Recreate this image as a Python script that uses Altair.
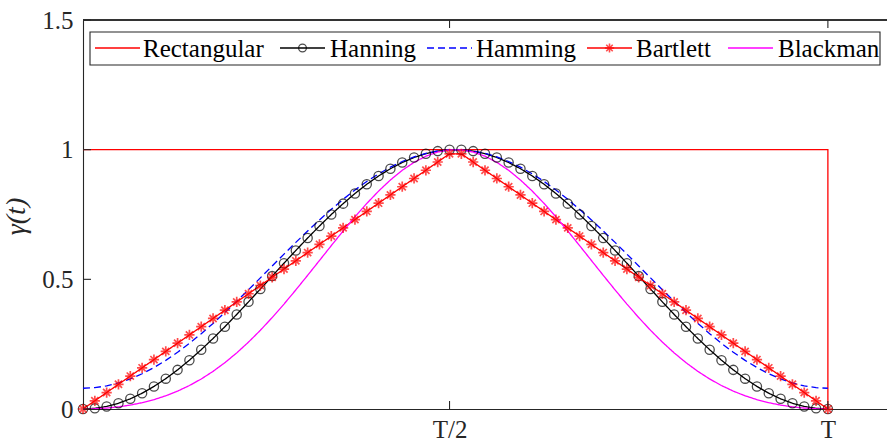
import altair as alt
import pandas as pd

# sample index (1..64), as in the source figure
n = list(range(1, 65))

hanning = [0.0000, 0.0025, 0.0099, 0.0222, 0.0393, 0.0609, 0.0869, 0.1170, 0.1509, 0.1883, 0.2287, 0.2719,
           0.3173, 0.3646, 0.4132, 0.4626, 0.5125, 0.5622, 0.6113, 0.6592, 0.7056, 0.7500, 0.7919, 0.8308,
           0.8665, 0.8986, 0.9266, 0.9505, 0.9698, 0.9845, 0.9944, 0.9994,
           0.9994, 0.9944, 0.9845, 0.9698, 0.9505, 0.9266, 0.8986, 0.8665, 0.8308, 0.7919, 0.7500, 0.7056,
           0.6592, 0.6113, 0.5622, 0.5125, 0.4626, 0.4132, 0.3646, 0.3173, 0.2719, 0.2287, 0.1883, 0.1509,
           0.1170, 0.0869, 0.0609, 0.0393, 0.0222, 0.0099, 0.0025, 0.0000]

hamming = [0.0800, 0.0823, 0.0891, 0.1004, 0.1161, 0.1360, 0.1599, 0.1876, 0.2188, 0.2532, 0.2904, 0.3301,
           0.3719, 0.4154, 0.4601, 0.5056, 0.5515, 0.5972, 0.6424, 0.6865, 0.7292, 0.7700, 0.8085, 0.8444,
           0.8772, 0.9067, 0.9325, 0.9544, 0.9723, 0.9858, 0.9949, 0.9994,
           0.9994, 0.9949, 0.9858, 0.9723, 0.9544, 0.9325, 0.9067, 0.8772, 0.8444, 0.8085, 0.7700, 0.7292,
           0.6865, 0.6424, 0.5972, 0.5515, 0.5056, 0.4601, 0.4154, 0.3719, 0.3301, 0.2904, 0.2532, 0.2188,
           0.1876, 0.1599, 0.1360, 0.1161, 0.1004, 0.0891, 0.0823, 0.0800]

bartlett = [0.0000, 0.0317, 0.0635, 0.0952, 0.1270, 0.1587, 0.1905, 0.2222, 0.2540, 0.2857, 0.3175, 0.3492,
            0.3810, 0.4127, 0.4444, 0.4762, 0.5079, 0.5397, 0.5714, 0.6032, 0.6349, 0.6667, 0.6984, 0.7302,
            0.7619, 0.7937, 0.8254, 0.8571, 0.8889, 0.9206, 0.9524, 0.9841,
            0.9841, 0.9524, 0.9206, 0.8889, 0.8571, 0.8254, 0.7937, 0.7619, 0.7302, 0.6984, 0.6667, 0.6349,
            0.6032, 0.5714, 0.5397, 0.5079, 0.4762, 0.4444, 0.4127, 0.3810, 0.3492, 0.3175, 0.2857, 0.2540,
            0.2222, 0.1905, 0.1587, 0.1270, 0.0952, 0.0635, 0.0317, 0.0000]

blackman = [0.0000, 0.0009, 0.0036, 0.0083, 0.0151, 0.0243, 0.0361, 0.0509, 0.0689, 0.0905, 0.1158, 0.1452,
            0.1787, 0.2163, 0.2580, 0.3035, 0.3526, 0.4046, 0.4592, 0.5155, 0.5727, 0.6300, 0.6864, 0.7409,
            0.7925, 0.8402, 0.8831, 0.9204, 0.9511, 0.9748, 0.9909, 0.9990,
            0.9990, 0.9909, 0.9748, 0.9511, 0.9204, 0.8831, 0.8402, 0.7925, 0.7409, 0.6864, 0.6300, 0.5727,
            0.5155, 0.4592, 0.4046, 0.3526, 0.3035, 0.2580, 0.2163, 0.1787, 0.1452, 0.1158, 0.0905, 0.0689,
            0.0509, 0.0361, 0.0243, 0.0151, 0.0083, 0.0036, 0.0009, 0.0000]

# rectangular window: flat at 1 over the whole window, dropping to 0 at T
rect_n = [1, 64, 64]
rect_v = [1, 1, 0]

series_names = ["Rectangular", "Hanning", "Hamming", "Bartlett", "Blackman"]
series_colors = ["#ff0000", "#000000", "#0000ff", "#ff0000", "#ff00ff"]

x_ticks = [32, 64]
x_tick_labels = ["T/2", "T"]
y_ticks = [0, 0.5, 1, 1.5]

FONT = "Liberation Serif"
INK = "#262626"

rows = []
for i, (a, b) in enumerate(zip(rect_n, rect_v)):
    rows.append({"n": a, "v": b, "series": "Rectangular", "k": i})
for name, vals in [("Hanning", hanning), ("Hamming", hamming), ("Bartlett", bartlett), ("Blackman", blackman)]:
    for i, (a, b) in enumerate(zip(n, vals)):
        rows.append({"n": a, "v": b, "series": name, "k": i})
df = pd.DataFrame(rows)

W, H = 804, 389
xs = alt.Scale(domain=[1, 69], nice=False, zero=False)
ys = alt.Scale(domain=[0, 1.5], nice=False)

x_enc = alt.X("n:Q", scale=xs,
              axis=alt.Axis(values=x_ticks, ticks=False, grid=False, title=None,
                            labelExpr="datum.value == 64 ? 'T' : 'T/2'",
                            labelPadding=8, domainColor=INK, domainWidth=1.1))
y_enc = alt.Y("v:Q", scale=ys,
              axis=alt.Axis(values=y_ticks, ticks=False, grid=False, format="~g",
                            title="γ(t)", titleFont=FONT, titleFontSize=28, titleFontStyle="italic",
                            titleFontWeight="normal", titleColor=INK, titleAngle=270,
                            titleAlign="center", titleBaseline="middle", titleX=-67, titleY=196,
                            labelPadding=10, domainColor=INK, domainWidth=1.1))

dash_range = [[1, 0], [1, 0], [7, 4], [1, 0], [1, 0]]

lines = alt.Chart(df).mark_line(strokeWidth=1.3, clip=True).encode(
    x=x_enc, y=y_enc,
    color=alt.Color("series:N", scale=alt.Scale(domain=series_names, range=series_colors), legend=None),
    strokeDash=alt.StrokeDash("series:N", scale=alt.Scale(domain=series_names, range=dash_range), legend=None),
    order="k:Q",
)

hann_pts = alt.Chart(df).transform_filter("datum.series == 'Hanning'").mark_point(
    shape="circle", size=85, filled=False, strokeWidth=1.3, color="#000000").encode(x="n:Q", y="v:Q")

star = "M0,-1L0,1M-1,0L1,0M-0.7,-0.7L0.7,0.7M-0.7,0.7L0.7,-0.7"
bart_pts = alt.Chart(df).transform_filter("datum.series == 'Bartlett'").mark_point(
    shape=star, size=105, filled=False, strokeWidth=1.7, color="#ff0000").encode(x="n:Q", y="v:Q")

# inward tick marks (MATLAB style) and top border
yt = pd.DataFrame({"v": y_ticks})
xt = pd.DataFrame({"n": x_ticks})
ytick_l = alt.Chart(yt).mark_rule(color=INK, strokeWidth=1.1).encode(
    y="v:Q", x=alt.value(0), x2=alt.value(8))
xtick_b = alt.Chart(xt).mark_rule(color=INK, strokeWidth=1.1).encode(
    x="n:Q", y=alt.value(H), y2=alt.value(H - 8))
xtick_t = alt.Chart(xt).mark_rule(color=INK, strokeWidth=1.1).encode(
    x="n:Q", y=alt.value(0), y2=alt.value(8))
top_border = alt.Chart(yt).mark_rule(color=INK, strokeWidth=1.1).encode(
    x=alt.value(0), x2=alt.value(W + 2), y=alt.value(0))

# ---- legend box (MATLAB style, horizontal) ----
one = pd.DataFrame({"a": [0]})
LY = 28  # legend row centre, px from plot top
leg_layers = [
    alt.Chart(one).mark_rect(fill="white", stroke=INK, strokeWidth=1.1).encode(
        x=alt.value(7), x2=alt.value(797), y=alt.value(12), y2=alt.value(45))
]
sample_x = [12, 197, 344, 504, 645]     # start of each line sample
label_x = [60, 247, 393, 553, 695]      # start of each label
dashes = [None, None, [7, 4], None, None]
for name, col, sx, lx, d in zip(series_names, series_colors, sample_x, label_x, dashes):
    kw = dict(color=col, strokeWidth=1.3)
    if d:
        kw["strokeDash"] = d
    leg_layers.append(alt.Chart(one).mark_rule(**kw).encode(
        x=alt.value(sx), x2=alt.value(sx + 45), y=alt.value(LY)))
    leg_layers.append(alt.Chart(one).mark_text(
        text=name, font=FONT, fontSize=25, color="#000000", align="left", baseline="middle").encode(
        x=alt.value(lx), y=alt.value(LY + 1)))
leg_layers.append(alt.Chart(one).mark_point(
    shape="circle", size=60, filled=False, strokeWidth=1.3, color="#000000").encode(
    x=alt.value(sample_x[1] + 22.5), y=alt.value(LY)))
leg_layers.append(alt.Chart(one).mark_point(
    shape=star, size=85, filled=False, strokeWidth=1.6, color="#ff0000").encode(
    x=alt.value(sample_x[3] + 22.5), y=alt.value(LY)))

chart = alt.layer(
    lines, hann_pts, bart_pts, ytick_l, xtick_b, xtick_t, top_border, *leg_layers
).properties(
    width=W, height=H,
    autosize=alt.AutoSizeParams(type="none"),
    padding={"left": 83, "top": 20, "right": 0, "bottom": 34},
    background="white",
).configure_view(stroke=None).configure_axis(
    labelFont=FONT, labelFontSize=25, labelColor=INK,
)

chart.save("out.html", embed_options={"renderer": "svg", "actions": False})
